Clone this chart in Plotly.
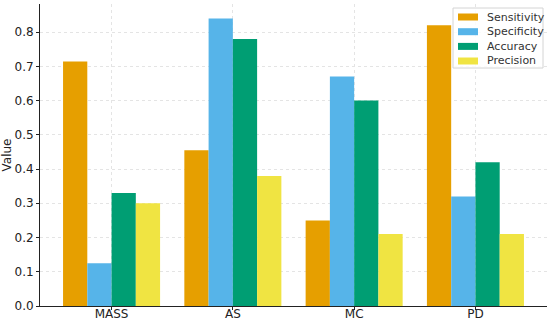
import plotly.graph_objects as go

categories = ["MASS", "AS", "MC", "PD"]
sensitivity = [0.714, 0.455, 0.25, 0.82]
specificity = [0.125, 0.84, 0.67, 0.32]
accuracy = [0.33, 0.78, 0.60, 0.42]
precision = [0.30, 0.38, 0.21, 0.21]

series_names = ["Sensitivity", "Specificity", "Accuracy", "Precision"]
series_values = [sensitivity, specificity, accuracy, precision]
series_colors = ["#E69F00", "#56B4E9", "#009E73", "#F0E442"]

fig = go.Figure()
for name, vals, color in zip(series_names, series_values, series_colors):
    fig.add_trace(go.Bar(x=categories, y=vals, name=name, marker_color=color,
                         marker_line_width=0))

# plot area in pixels: x 40..547, y 4..306
W, H, L, T, R, B = 550, 322, 40, 4, 3, 16
pw, ph = W - L - R, H - T - B


def px(x):
    return (x - L) / pw


def py(y):
    return (T + ph - y) / ph


shapes = [dict(type="rect", xref="paper", yref="paper",
               x0=px(453), x1=px(543), y0=py(68), y1=py(8),
               line=dict(color="#d4d4d4", width=1),
               fillcolor="rgba(255,255,255,0.85)", layer="above")]
annotations = []
row_y = [17, 31.7, 46.4, 61]
for name, color, ry in zip(series_names, series_colors, row_y):
    shapes.append(dict(type="rect", xref="paper", yref="paper",
                       x0=px(458), x1=px(478), y0=py(ry + 3.5), y1=py(ry - 3.5),
                       line=dict(width=0), fillcolor=color, layer="above"))
    annotations.append(dict(text=name, xref="paper", yref="paper",
                            x=px(485), y=py(ry), xanchor="left", yanchor="middle",
                            showarrow=False, font=dict(size=11, color="#333")))

fig.update_layout(
    width=W, height=H,
    margin=dict(l=L, r=R, t=T, b=B),
    barmode="group", bargap=0.2, bargroupgap=0,
    plot_bgcolor="white", paper_bgcolor="white",
    font=dict(family="DejaVu Sans", size=12, color="#222"),
    showlegend=False,
    shapes=shapes, annotations=annotations,
)
fig.update_xaxes(
    range=[-0.59, 3.59], showline=True, linecolor="#222", linewidth=1,
    showgrid=True, gridcolor="#e4e4e4", griddash="dot", gridwidth=1,
    ticks="outside", ticklen=3, tickcolor="#222", tickfont=dict(size=12),
    automargin=False, ticklabelstandoff=-6,
)
fig.update_yaxes(
    range=[0, 0.882], showline=True, linecolor="#222", linewidth=1,
    showgrid=True, gridcolor="#e4e4e4", griddash="dot", gridwidth=1,
    ticks="outside", ticklen=3, tickcolor="#222",
    tickvals=[0, 0.1, 0.2, 0.3, 0.4, 0.5, 0.6, 0.7, 0.8], tickformat=".1f",
    title=dict(text="Value", standoff=6, font=dict(size=12)),
    zeroline=False, automargin=False,
)

fig.write_html("out.html", config={"displayModeBar": False},
               post_script="document.body.style.margin='0';")
